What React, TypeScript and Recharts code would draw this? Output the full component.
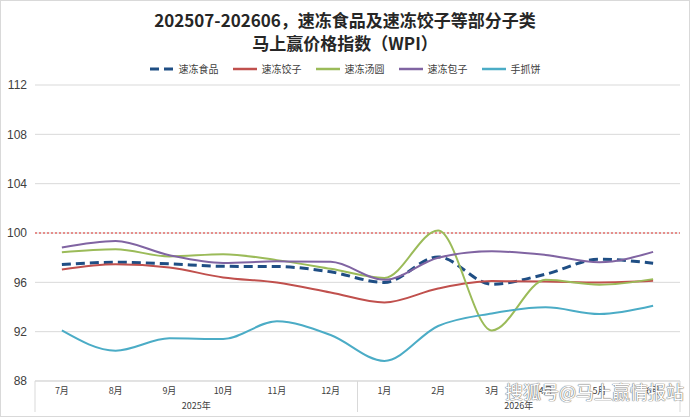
import { LineChart, Line, XAxis, YAxis, CartesianGrid, ReferenceLine } from "recharts";

// 月份、年份
const months = ["7月", "8月", "9月", "10月", "11月", "12月", "1月", "2月", "3月", "4月", "5月", "6月"];
const years = ["2025年", "2025年", "2025年", "2025年", "2025年", "2025年", "2026年", "2026年", "2026年", "2026年", "2026年", "2026年"];

// 各子类指数
const frozenFood = [97.44, 97.63, 97.5, 97.3, 97.28, 96.85, 95.99, 98.06, 95.85, 96.66, 97.87, 97.55];
const dumplings = [97.04, 97.47, 97.2, 96.4, 95.99, 95.18, 94.37, 95.5, 96.1, 96.07, 95.99, 96.12];
const tangyuan = [98.44, 98.68, 98.1, 98.28, 97.8, 97.1, 96.36, 100.2, 92.1, 96.2, 95.8, 96.26];
const baozi = [98.82, 99.35, 98.2, 97.57, 97.7, 97.66, 96.2, 98.0, 98.52, 98.22, 97.63, 98.47];
const pancake = [92.1, 90.46, 91.46, 91.41, 92.84, 91.73, 89.63, 92.46, 93.48, 93.97, 93.43, 94.1];

const yTicks = [88, 92, 96, 100, 104, 108, 112];

const series = [
  { key: "frozenFood", name: "速冻食品", color: "#1f4e84", dashed: true },
  { key: "dumplings", name: "速冻饺子", color: "#c0504d", dashed: false },
  { key: "tangyuan", name: "速冻汤圆", color: "#9bbb59", dashed: false },
  { key: "baozi", name: "速冻包子", color: "#8064a2", dashed: false },
  { key: "pancake", name: "手抓饼", color: "#4bacc6", dashed: false },
];

const data = months.map((m, i) => ({
  month: m,
  frozenFood: frozenFood[i],
  dumplings: dumplings[i],
  tangyuan: tangyuan[i],
  baozi: baozi[i],
  pancake: pancake[i],
}));

const W = 690;
const H = 417;
const Y_AXIS_W = 35;
const MARGIN = { top: 85, right: 10, bottom: 2, left: 0 };
const BAND = (W - MARGIN.left - Y_AXIS_W - MARGIN.right) / months.length;
const FONT = "'Liberation Sans', Arial, sans-serif";
const CJK = "'Noto Sans CJK SC', sans-serif";

// 两级分类轴：月份 + 年份
function MonthTick({ x, y, payload, index }: any) {
  const first = index === 0 || index === 6;
  return (
    <g>
      <text x={x} y={y + 13} textAnchor="middle" fontSize={9} fill="#404040" fontFamily={CJK}>
        {payload.value}
      </text>
      {first && (
        <>
          <line x1={x - BAND / 2} y1={y} x2={x - BAND / 2} y2={y + 31} stroke="#d9d9d9" />
          <text x={x + BAND * 2.5} y={y + 28} textAnchor="middle" fontSize={9} fill="#404040" fontFamily={CJK}>
            {years[index]}
          </text>
        </>
      )}
      {index === months.length - 1 && (
        <line x1={x + BAND / 2} y1={y} x2={x + BAND / 2} y2={y + 31} stroke="#d9d9d9" />
      )}
    </g>
  );
}

function LegendIcon({ color, dashed }: any) {
  return (
    <svg width={24} height={6} style={{ marginRight: 5 }}>
      <line
        x1={0}
        y1={3}
        x2={24}
        y2={3}
        stroke={color}
        strokeWidth={dashed ? 3 : 2.5}
        strokeDasharray={dashed ? "9 5" : undefined}
      />
    </svg>
  );
}

export default function App() {
  return (
    <div
      style={{
        position: "absolute",
        left: 0,
        top: 0,
        width: W,
        height: H,
        boxSizing: "border-box",
        border: "1px solid #d9d9d9",
        background: "#fff",
        overflow: "hidden",
      }}
    >
      <div
        style={{
          position: "absolute",
          top: 7,
          width: "100%",
          textAlign: "center",
          fontFamily: CJK,
          fontWeight: 700,
          fontSize: 17,
          lineHeight: "23px",
          color: "#262626",
        }}
      >
        <div>202507-202606，速冻食品及速冻饺子等部分子类</div>
        <div>马上赢价格指数（WPI）</div>
      </div>
      <div
        style={{
          position: "absolute",
          top: 61,
          width: "100%",
          display: "flex",
          justifyContent: "center",
          gap: 14,
          fontFamily: CJK,
          fontSize: 10,
          color: "#404040",
          lineHeight: "14px",
        }}
      >
        {series.map((s) => (
          <div key={s.key} style={{ display: "flex", alignItems: "center" }}>
            <LegendIcon color={s.color} dashed={s.dashed} />
            {s.name}
          </div>
        ))}
      </div>
      <div style={{ position: "absolute", left: -1, top: -1 }}>
        <LineChart width={W} height={H} data={data} margin={MARGIN}>
          <CartesianGrid vertical={false} stroke="#d9d9d9" />
          <XAxis
            dataKey="month"
            scale="band"
            interval={0}
            height={34}
            tickSize={0}
            tickMargin={0}
            tickLine={false}
            axisLine={{ stroke: "#d9d9d9" }}
            tick={<MonthTick />}
          />
          <YAxis
            width={Y_AXIS_W}
            domain={[88, 112]}
            ticks={yTicks}
            axisLine={false}
            tickLine={false}
            tick={{ fontSize: 12, fill: "#404040", fontFamily: FONT }}
          />
          <ReferenceLine y={100} stroke="#e0302a" strokeDasharray="2 2" />
          {series.map((s) => (
            <Line
              key={s.key}
              type="monotone"
              dataKey={s.key}
              name={s.name}
              stroke={s.color}
              strokeWidth={s.dashed ? 3 : 2}
              strokeDasharray={s.dashed ? "9 5" : undefined}
              dot={false}
              isAnimationActive={false}
            />
          ))}
        </LineChart>
      </div>
      <div
        style={{
          position: "absolute",
          right: 5,
          bottom: 12,
          fontFamily: CJK,
          fontSize: 18,
          color: "#fff",
          textShadow: "0 0 1px #777, 0 0 1px #777, 0 0 1px #777",
        }}
      >
        搜狐号@马上赢情报站
      </div>
    </div>
  );
}
